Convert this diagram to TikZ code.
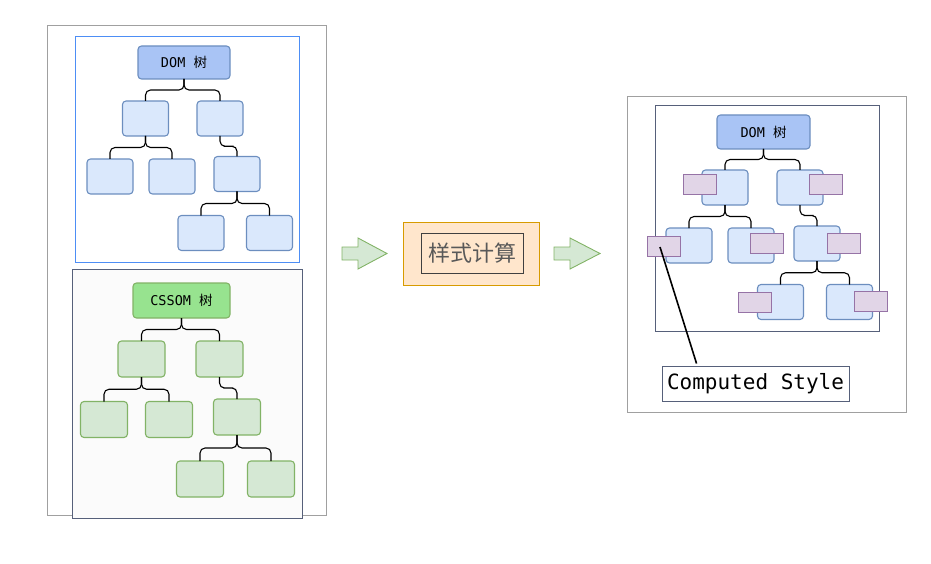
\documentclass[tikz,border=0pt]{standalone}
\usepackage{fontspec}
\setmonofont{DejaVu Sans Mono}
\newfontfamily\cjk{Noto Sans CJK SC}
\usetikzlibrary{calc}
\definecolor{dombg}{HTML}{A9C4F5}
\definecolor{domst}{HTML}{6C8EBF}
\definecolor{lblue}{HTML}{DAE8FC}
\definecolor{cssbg}{HTML}{97E38F}
\definecolor{gst}{HTML}{82B366}
\definecolor{lgreen}{HTML}{D5E8D4}
\definecolor{pfill}{HTML}{E1D5E7}
\definecolor{pst}{HTML}{9673A6}
\definecolor{bluebox}{HTML}{4D8EF5}
\definecolor{darkbox}{HTML}{56607A}
\definecolor{grayst}{HTML}{A0A0A0}
\definecolor{ofill}{HTML}{FFE6CC}
\definecolor{ost}{HTML}{D79B00}
\tikzset{
  nd/.style={draw, rounded corners=3.5pt, inner sep=0pt, outer sep=0pt, line width=1.1pt},
  bnode/.style={nd, draw=domst, fill=lblue, minimum width=46pt, minimum height=35pt},
  gnode/.style={nd, draw=gst, fill=lgreen, minimum width=47pt, minimum height=36pt},
  broot/.style={nd, draw=domst, fill=dombg, font=\ttfamily\fontsize{13.5}{15}\selectfont},
  groot/.style={nd, draw=gst, fill=cssbg, font=\ttfamily\fontsize{13.5}{15}\selectfont},
  pbox/.style={draw=pst, fill=pfill, line width=1pt, minimum width=33pt, minimum height=20pt, inner sep=0pt},
  conn/.style={draw=black, line width=1.1pt, rounded corners=5pt},
  frame/.style={line width=0.9pt},
  bigarrow/.style={draw=gst, fill=lgreen, line width=0.9pt, line join=miter},
}
\newcommand{\tconn}[2]{\draw[conn] (#1.south) |- ($(#1.south)!0.5!(#2.north)$) -| (#2.north);}
\begin{document}
\begin{tikzpicture}[x=1pt,y=-1pt]
\useasboundingbox (0,0) rectangle (931,564);
% left frames
\draw[frame, draw=grayst] (47,25) rectangle (326,515);
\draw[frame, draw=bluebox] (75,36) rectangle (299,262);
\draw[frame, draw=darkbox, fill=black!1.5] (72,269) rectangle (302,518);
% DOM tree left
\node[broot, minimum width=92pt, minimum height=33pt] (d0) at (184,62.5) {DOM {\cjk 树}};
\node[bnode] (d1) at (145.5,118.5) {};
\node[bnode] (d2) at (220,118.5) {};
\node[bnode] (d3) at (110,176.5) {};
\node[bnode] (d4) at (172,176.5) {};
\node[bnode] (d5) at (237,174) {};
\node[bnode] (d6) at (201,233) {};
\node[bnode] (d7) at (269.5,233) {};
\tconn{d0}{d1}\tconn{d0}{d2}\tconn{d1}{d3}\tconn{d1}{d4}\tconn{d2}{d5}\tconn{d5}{d6}\tconn{d5}{d7}
% CSSOM tree
\node[groot, minimum width=97pt, minimum height=35pt] (c0) at (181.5,300.5) {CSSOM {\cjk 树}};
\node[gnode] (c1) at (141.5,359) {};
\node[gnode] (c2) at (219.5,359) {};
\node[gnode] (c3) at (104,419.5) {};
\node[gnode] (c4) at (169,419.5) {};
\node[gnode] (c5) at (237,417) {};
\node[gnode] (c6) at (200,479) {};
\node[gnode] (c7) at (271,479) {};
\tconn{c0}{c1}\tconn{c0}{c2}\tconn{c1}{c3}\tconn{c1}{c4}\tconn{c2}{c5}\tconn{c5}{c6}\tconn{c5}{c7}
% middle
\draw[bigarrow] (342,247) -- (358,247) -- (358,238) -- (387,253.5) -- (358,269) -- (358,260) -- (342,260) -- cycle;
\node[draw=ost, fill=ofill, line width=0.9pt, minimum width=136pt, minimum height=63pt, inner sep=0pt] (calc) at (471,253.5) {};
\node[draw=black!75, line width=0.9pt, minimum width=102pt, minimum height=40pt, inner sep=0pt, text=black!65, font=\cjk\fontsize{22}{24}\selectfont] (calct) at (472,253) {样式计算};
\draw[bigarrow] (554,247) -- (570,247) -- (570,238) -- (600,253.5) -- (570,269) -- (570,260) -- (554,260) -- cycle;
% right frames
\draw[frame, draw=grayst] (627,96) rectangle (906,412);
\draw[frame, draw=darkbox, fill=white] (655,105) rectangle (879,331);
% right tree
\node[broot, minimum width=93pt, minimum height=34pt] (r0) at (763.5,132) {DOM {\cjk 树}};
\node[bnode] (r1) at (725,187.5) {};
\node[bnode] (r2) at (800,187.5) {};
\node[bnode] (r3) at (689,245.5) {};
\node[bnode] (r4) at (751,245.5) {};
\node[bnode] (r5) at (817,243.5) {};
\node[bnode] (r6) at (780.5,302) {};
\node[bnode] (r7) at (849.5,302) {};
\tconn{r0}{r1}\tconn{r0}{r2}\tconn{r1}{r3}\tconn{r1}{r4}\tconn{r2}{r5}\tconn{r5}{r6}\tconn{r5}{r7}
\node[pbox] (p1) at (699.5,185) {};
\node[pbox] (p2) at (826,185) {};
\node[pbox] (p3) at (663.5,246.5) {};
\node[pbox] (p4) at (766.5,243) {};
\node[pbox] (p5) at (844,243) {};
\node[pbox] (p6) at (754.5,302) {};
\node[pbox] (p7) at (870.5,301) {};
% computed style label
\node[draw=darkbox, fill=white, line width=0.9pt, minimum width=187pt, minimum height=35pt, inner sep=0pt, font=\ttfamily\fontsize{21}{23}\selectfont] (cs) at (755.5,383.5) {Computed Style};
\coordinate (ls) at ($(p3.center)+(-3.5,0.5)$);
\coordinate (le) at ($(cs.north west)+(35,-2)$);
\draw[line width=1.6pt] (ls) -- (le);
\end{tikzpicture}
\end{document}
